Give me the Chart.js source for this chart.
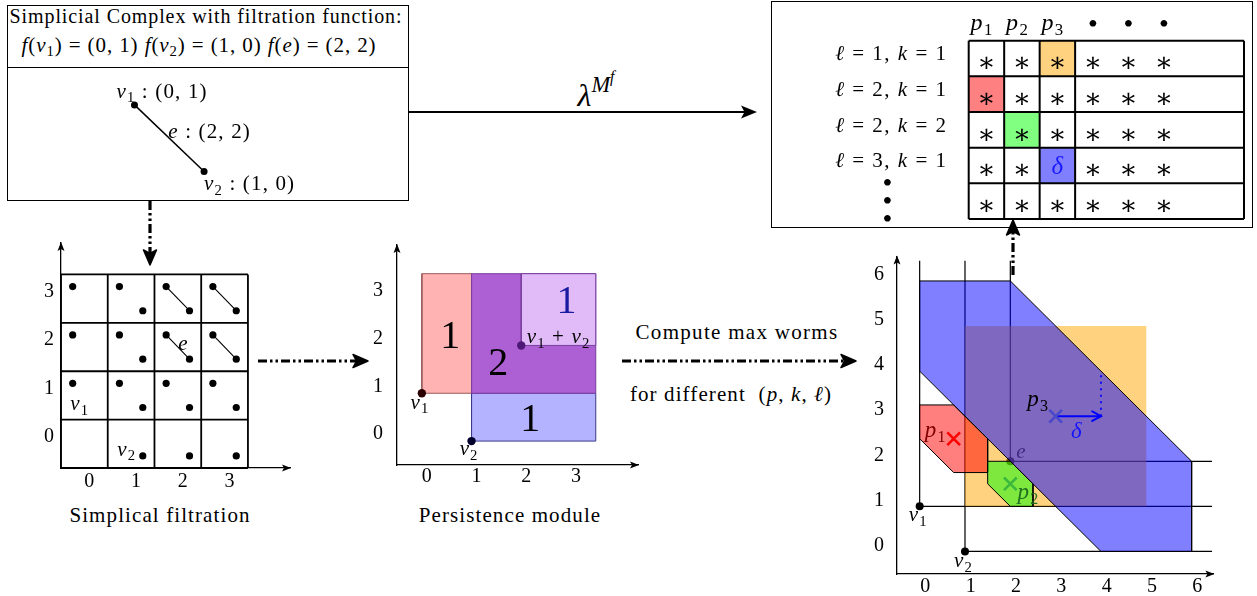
<!DOCTYPE html>
<html>
<head>
<meta charset="utf-8">
<title>Max worms from a persistence module</title>
<script src="https://cdn.jsdelivr.net/npm/chart.js@4.4.1/dist/chart.umd.min.js"></script>
<style>
  body { margin: 0; background: #fff; }
  #page { position: relative; width: 1257px; height: 596px; overflow: hidden; font-family: "Liberation Serif", "DejaVu Serif", serif; color: #000; }
  .pane { position: absolute; }
  .box { position: absolute; border: 1.3px solid #000; box-sizing: border-box; }
  .txt { position: absolute; white-space: nowrap; transform: translate(-50%, -50%); line-height: 1; font-size: 21px; letter-spacing: 1.1px; }
  sub { font-size: 70%; vertical-align: -0.28em; line-height: 0; }
  sup { font-size: 70%; vertical-align: 0.62em; line-height: 0; }
  svg { position: absolute; left: 0; top: 0; }
</style>
</head>
<body>
<div id="page">
  <div class="box" style="left:7px;top:5px;width:402px;height:196px"></div>
  <div class="box" style="left:7px;top:67px;width:402px;height:1px;border-width:1px 0 0 0"></div>
  <div class="box" style="left:771px;top:1px;width:482px;height:227px"></div>

  <div class="txt" style="left:206px;top:16px;font-size:20px;letter-spacing:0.9px">Simplicial Complex with filtration function:</div>
  <div class="txt" style="left:199px;top:45px;letter-spacing:0.9px"><i>f</i>(<i>v</i><sub>1</sub>) = (0, 1) <i>f</i>(<i>v</i><sub>2</sub>) = (1, 0) <i>f</i>(<i>e</i>) = (2, 2)</div>
  <div class="txt" style="left:596px;top:94px;font-size:32px;letter-spacing:0"><i>λ</i><sup><i>M</i><sup><i>f</i></sup></sup></div>
  <div class="txt" style="left:737px;top:332px;letter-spacing:1.3px">Compute max worms</div>
  <div class="txt" style="left:731px;top:394px">for different&nbsp; (<i>p</i>, <i>k</i>, <i>ℓ</i>)</div>
  <div class="txt" style="left:160px;top:515px">Simplical filtration</div>
  <div class="txt" style="left:510px;top:515px">Persistence module</div>

  <div class="pane" style="left:9px;top:69px;width:398px;height:130px"><canvas id="complexChart"></canvas></div>
  <div class="pane" style="left:21px;top:238px;width:277px;height:260px"><canvas id="filtrationChart"></canvas></div>
  <div class="pane" style="left:352px;top:240px;width:294px;height:255px"><canvas id="moduleChart"></canvas></div>
  <div class="pane" style="left:852px;top:245px;width:373px;height:351px"><canvas id="wormChart"></canvas></div>
  <div class="pane" style="left:773px;top:3px;width:478px;height:223px"><canvas id="tableChart"></canvas></div>

  <svg width="1257" height="596">
    <g stroke="#000" fill="none" stroke-width="3.2" stroke-dasharray="9 3 2.5 3 2.5 3">
      <line x1="150" y1="201" x2="150" y2="255"/>
      <line x1="258" y1="361" x2="358" y2="361"/>
      <line x1="622" y1="361" x2="846" y2="361"/>
      <line x1="1013" y1="275" x2="1013" y2="229"/>
    </g>
    <g fill="#000" stroke="#000" stroke-width="1.5" stroke-linejoin="round">
      <path d="M150,265 L143.5,250 L150,253.5 L156.5,250 Z"/>
      <path d="M368,361 L353,354.5 L356.5,361 L353,367.5 Z"/>
      <path d="M856,361 L841,354.5 L844.5,361 L841,367.5 Z"/>
      <path d="M1013,220 L1006.5,235 L1013,231.5 L1019.5,235 Z"/>
    </g>
    <line x1="409" y1="112" x2="746" y2="112" stroke="#000" stroke-width="1.8"/>
    <path d="M757,112 L741,105.5 L744.5,112 L741,118.5 Z" fill="#000"/>
  </svg>
</div>

<script>
const SERIF = '"Liberation Serif", "DejaVu Serif", serif';

// simplicial complex: two vertices and one edge with their bifiltration values
const vertexNames = ['v_1', 'v_2'];
const vertexValues = [[0, 1], [1, 0]];
const edgeName = 'e';
const edgeValue = [2, 2];

// tick labels of the three plots
const filtrationTicks = [0, 1, 2, 3];
const moduleTicks = [0, 1, 2, 3];
const wormTicks = [0, 1, 2, 3, 4, 5, 6];

// persistence module: rank regions as rectangles
const regionRanks = ['1', '1', '2', '1'];
const regionX0 = [0, 1, 1, 2];
const regionX1 = [1, 3.5, 3.5, 3.5];
const regionY0 = [1, 0, 1, 2];
const regionY1 = [3.5, 1, 3.5, 3.5];

// worms around the points p1, p2, p3
const wormNames = ['p_1', 'p_2', 'p_3'];
const wormCenters = [[0.75, 2.5], [2, 1.5], [3, 3]];
const wormP1 = [[0, 3.25], [0.75, 3.25], [1.5, 2.5], [1.5, 1.75], [0.75, 1.75], [0, 2.5]];
const wormP2 = [[1.5, 2], [2, 2], [2.5, 1.5], [2.5, 1], [2, 1], [1.5, 1.5]];
const wormP3 = [[0, 6], [2, 6], [6, 2], [6, 0], [4, 0], [0, 4]];
const supportBox = [[1, 1], [5, 1], [5, 5], [1, 5]];
const deltaValue = 1;
const deltaGuide = [[4, 3], [4, 4]];
const hookEnd = 6.45;

// table of max worm values
const tableColumns = ['$p_1$', '$p_2$', '$p_3$', '•', '•', '•'];
const tableRows = ['$ℓ$ = 1, $k$ = 1', '$ℓ$ = 2, $k$ = 1', '$ℓ$ = 2, $k$ = 2', '$ℓ$ = 3, $k$ = 1'];
const tableEntries = [
  ['∗', '∗', '∗', '∗', '∗', '∗'],
  ['∗', '∗', '∗', '∗', '∗', '∗'],
  ['∗', '∗', '∗', '∗', '∗', '∗'],
  ['∗', '∗', '$δ$', '∗', '∗', '∗'],
  ['∗', '∗', '∗', '∗', '∗', '∗']
];
const markedRows = [0, 1, 2, 3];
const markedCols = [2, 0, 1, 2];

// colours
const markColors = ['#ffd280', '#ff8080', '#80ff80', '#8080ff'];
const regionFills = ['#ffb3b3', '#b3b3ff', '#ad5fd4', '#e0bbf7'];
const regionEdges = ['#9a5a5a', '#3a3a8a', '#7a3fa0', '#7a3fa0'];

// tiny tex: $...$ is math (letters in italics), _x is a subscript
function parseTex(s) {
  const parts = [];
  let math = false;
  for (let i = 0; i < s.length; i++) {
    const c = s[i];
    if (c === '$') { math = !math; continue; }
    if (math && c === '_') { parts.push({ t: s[i + 1], math, sub: true }); i++; continue; }
    parts.push({ t: c, math, sub: false });
  }
  return parts;
}

function drawTex(ctx, x, y, tex, size, color, align, spacing) {
  const parts = parseTex(tex);
  const gap = spacing === undefined ? size * 0.055 : spacing;
  const fontOf = p => (p.math && /[A-Za-zδℓ]/.test(p.t) ? 'italic ' : '') + (p.sub ? size * 0.7 : size) + 'px ' + SERIF;
  let width = 0;
  parts.forEach(p => { ctx.font = fontOf(p); p.w = ctx.measureText(p.t).width + gap; width += p.w; });
  width -= gap;
  let cx = align === 'left' ? x : align === 'right' ? x - width : x - width / 2;
  ctx.save();
  ctx.fillStyle = color;
  ctx.textAlign = 'left';
  ctx.textBaseline = 'alphabetic';
  parts.forEach(p => {
    ctx.font = fontOf(p);
    ctx.fillText(p.t, cx, y + size * 0.33 + (p.sub ? size * 0.22 : 0));
    cx += p.w;
  });
  ctx.restore();
}

// labels anchored at data coordinates, with a pixel nudge
function textLayer(when, items) {
  const hook = when === 'under' ? 'beforeDatasetsDraw' : 'afterDraw';
  return {
    id: 'text_' + when,
    [hook](chart) {
      const { ctx, scales } = chart;
      items.forEach(it => {
        const px = scales.x.getPixelForValue(it.x) + (it.dx || 0);
        const py = scales.y.getPixelForValue(it.y) + (it.dy || 0);
        drawTex(ctx, px, py, it.tex, it.size || 21, it.color || '#000', it.align || 'center', it.spacing);
      });
    }
  };
}

// fills closed datasets (polygonColor) from the points chart.js placed, and draws arrow tips
const polygonFill = {
  id: 'polygonFill',
  beforeDatasetDraw(chart, args) {
    const ds = chart.data.datasets[args.index];
    if (!ds.polygonColor) return;
    const ctx = chart.ctx;
    ctx.save();
    ctx.beginPath();
    args.meta.data.forEach((p, i) => i ? ctx.lineTo(p.x, p.y) : ctx.moveTo(p.x, p.y));
    ctx.closePath();
    ctx.fillStyle = ds.polygonColor;
    ctx.fill();
    ctx.restore();
  },
  afterDatasetDraw(chart, args) {
    const ds = chart.data.datasets[args.index];
    if (!ds.arrowEnd) return;
    const pts = args.meta.data;
    const a = pts[pts.length - 2], b = pts[pts.length - 1];
    const ang = Math.atan2(b.y - a.y, b.x - a.x);
    const ctx = chart.ctx;
    ctx.save();
    ctx.strokeStyle = ds.borderColor;
    ctx.lineWidth = ds.borderWidth;
    ctx.lineCap = 'round';
    ctx.beginPath();
    ctx.moveTo(b.x - 10 * Math.cos(ang - 0.5), b.y - 10 * Math.sin(ang - 0.5));
    ctx.lineTo(b.x, b.y);
    ctx.lineTo(b.x - 10 * Math.cos(ang + 0.5), b.y - 10 * Math.sin(ang + 0.5));
    ctx.stroke();
    ctx.restore();
  }
};
Chart.register(polygonFill);

const axisArrows = {
  id: 'axisArrows',
  afterDraw(chart) {
    const { ctx, chartArea: a } = chart;
    ctx.save();
    ctx.fillStyle = '#000';
    ctx.beginPath();
    ctx.moveTo(a.right + 1, a.bottom);
    ctx.lineTo(a.right - 8, a.bottom - 3.5);
    ctx.lineTo(a.right - 6, a.bottom);
    ctx.lineTo(a.right - 8, a.bottom + 3.5);
    ctx.closePath();
    ctx.fill();
    ctx.beginPath();
    ctx.moveTo(a.left, a.top - 1);
    ctx.lineTo(a.left - 3.5, a.top + 8);
    ctx.lineTo(a.left, a.top + 6);
    ctx.lineTo(a.left + 3.5, a.top + 8);
    ctx.closePath();
    ctx.fill();
    ctx.restore();
  }
};

const pt = p => ({ x: p[0], y: p[1] });
const GAP = { x: null, y: null };

function lineSet(points, color, width, order, extra) {
  return Object.assign({
    data: points, showLine: true, borderColor: color, borderWidth: width,
    pointRadius: 0, fill: false, spanGaps: false, clip: false, order
  }, extra || {});
}

function polySet(points, fillColor, edgeColor, order) {
  return lineSet(points.concat([points[0]]).map(pt), edgeColor || 'rgba(0,0,0,0)', 1, order, { polygonColor: fillColor });
}

function dotSet(points, color, radius, order, style, width) {
  return {
    data: points, showLine: false, pointRadius: radius, pointStyle: style || 'circle',
    pointBackgroundColor: color, pointBorderColor: color, pointBorderWidth: width || 0, clip: false, order
  };
}

function baseOptions(scales, padding) {
  return {
    responsive: true, maintainAspectRatio: false, animation: false, events: [],
    layout: { padding },
    plugins: { legend: { display: false }, tooltip: { enabled: false } },
    scales
  };
}

function hiddenScale(min, max, reverse) {
  return { type: 'linear', display: false, min, max, reverse: !!reverse };
}

function axisScale(min, max, ticks, size, pad, offset, isY) {
  return {
    type: 'linear', min, max,
    grid: { display: false, drawTicks: false },
    border: { display: true, color: '#000', width: 1.3 },
    ticks: { color: '#000', font: { family: SERIF, size: 20 }, padding: pad, labelOffset: offset },
    afterBuildTicks: s => { s.ticks = ticks.map(v => ({ value: v })); },
    afterFit: s => {
      if (isY) s.width = size; else s.height = size;
      s.paddingTop = 0; s.paddingBottom = 0; s.paddingLeft = 0; s.paddingRight = 0;
    }
  };
}

// ---- simplicial complex (top left box)
const edgeMid = [(vertexValues[0][0] + vertexValues[1][0]) / 2, (vertexValues[0][1] + vertexValues[1][1]) / 2];
new Chart(document.getElementById('complexChart'), {
  type: 'scatter',
  data: { datasets: [
    lineSet(vertexValues.map(pt), '#000', 1.5, 1, { pointRadius: 3.5, pointBackgroundColor: '#000', pointBorderWidth: 0 })
  ] },
  options: baseOptions({ x: hiddenScale(-1.746, 3.859), y: hiddenScale(-0.352, 1.479) }, 0),
  plugins: [textLayer('over', [
    { x: vertexValues[0][0], y: vertexValues[0][1], dx: -18, dy: -14, align: 'left', tex: '$' + vertexNames[0] + '$ : (' + vertexValues[0].join(', ') + ')' },
    { x: edgeMid[0], y: edgeMid[1], dx: -1, dy: -7, align: 'left', tex: '$' + edgeName + '$ : (' + edgeValue.join(', ') + ')' },
    { x: vertexValues[1][0], y: vertexValues[1][1], dx: 0, dy: 12, align: 'left', tex: '$' + vertexNames[1] + '$ : (' + vertexValues[1].join(', ') + ')' }
  ])]
});

// ---- simplicial filtration grid
const gridLines = [];
const lo = filtrationTicks[0] - 0.5, hi = filtrationTicks[filtrationTicks.length - 1] + 0.5;
filtrationTicks.concat([hi + 0.5]).forEach(t => {
  gridLines.push({ x: t - 0.5, y: lo }, { x: t - 0.5, y: hi }, GAP);
  gridLines.push({ x: lo, y: t - 0.5 }, { x: hi, y: t - 0.5 }, GAP);
});
const v1Dots = [], v2Dots = [], edgeLines = [];
filtrationTicks.forEach(i => filtrationTicks.forEach(j => {
  const a = { x: i - 0.25, y: j + 0.25 }, b = { x: i + 0.25, y: j - 0.25 };
  if (i >= vertexValues[0][0] && j >= vertexValues[0][1]) v1Dots.push(a);
  if (i >= vertexValues[1][0] && j >= vertexValues[1][1]) v2Dots.push(b);
  if (i >= edgeValue[0] && j >= edgeValue[1]) edgeLines.push(a, b, GAP);
}));
new Chart(document.getElementById('filtrationChart'), {
  type: 'scatter',
  data: { datasets: [
    lineSet(gridLines, '#000', 1.8, 3),
    lineSet(edgeLines, '#000', 1.1, 2),
    dotSet(v1Dots, '#000', 3.6, 1),
    dotSet(v2Dots, '#000', 3.6, 1)
  ] },
  options: baseOptions({
    x: axisScale(-0.5, 4.4, filtrationTicks, 30, 2, 5, false),
    y: axisScale(-0.5, 4.15, filtrationTicks, 40, 7, -7, true)
  }, { top: 5, right: 8, left: 0, bottom: 0 }),
  plugins: [axisArrows, textLayer('over', [
    { x: vertexValues[0][0] - 0.25, y: vertexValues[0][1] + 0.25, dx: 6.6, dy: 20, tex: '$' + vertexNames[0] + '$' },
    { x: vertexValues[1][0] + 0.25, y: vertexValues[1][1] - 0.25, dx: -16.7, dy: -7, tex: '$' + vertexNames[1] + '$' },
    { x: edgeValue[0], y: edgeValue[1], dx: 5, dy: -3.5, tex: '$' + edgeName + '$' }
  ])]
});

// ---- persistence module
const regionSets = regionRanks.map((r, i) => polySet(
  [[regionX0[i], regionY0[i]], [regionX1[i], regionY0[i]], [regionX1[i], regionY1[i]], [regionX0[i], regionY1[i]]],
  regionFills[i], regionEdges[i], 10 - i));
new Chart(document.getElementById('moduleChart'), {
  type: 'scatter',
  data: { datasets: regionSets.concat([
    dotSet([pt(vertexValues[0])], '#2a0000', 4.2, 1),
    dotSet([pt(vertexValues[1])], '#00002a', 4.2, 1),
    dotSet([pt(edgeValue)], '#4e1878', 4.2, 1)
  ]) },
  options: baseOptions({
    x: axisScale(-0.5, 4.35, moduleTicks, 30, 0, 5, false),
    y: axisScale(-0.5, 4.1, moduleTicks, 45, 14, -7, true)
  }, { top: 5, right: 8, left: 0, bottom: 0 }),
  plugins: [axisArrows, textLayer('over', [
    { x: 0.57, y: 2.22, tex: regionRanks[0], size: 40, spacing: 0 },
    { x: 2.18, y: 0.48, tex: regionRanks[1], size: 40, spacing: 0 },
    { x: 1.54, y: 1.66, tex: regionRanks[2], size: 40, spacing: 0 },
    { x: 2.91, y: 2.95, tex: regionRanks[3], size: 40, spacing: 0, color: '#1a1aa0' },
    { x: vertexValues[0][0], y: vertexValues[0][1], dx: -2.5, dy: 8.4, tex: '$' + vertexNames[0] + '$' },
    { x: vertexValues[1][0], y: vertexValues[1][1], dx: -3, dy: 7, tex: '$' + vertexNames[1] + '$' },
    { x: edgeValue[0], y: edgeValue[1], dx: 5.5, dy: -9, align: 'left', tex: '$' + vertexNames.join(' + ') + '$' }
  ])]
});

// ---- worms
const generators = vertexValues.concat([edgeValue]);
const hookLines = [];
generators.forEach(g => hookLines.push({ x: g[0], y: hookEnd }, pt(g), { x: hookEnd, y: g[1] }, GAP));
const p3 = wormCenters[2];
new Chart(document.getElementById('wormChart'), {
  type: 'scatter',
  data: { datasets: [
    lineSet(hookLines, '#000', 1.2, 12),
    dotSet(generators.map(pt), '#000', 4, 11),
    polySet(supportBox, 'rgba(255,165,0,0.5)', null, 10),
    polySet(wormP1, 'rgba(255,0,0,0.5)', '#000', 9),
    polySet(wormP2, 'rgba(0,255,0,0.5)', '#000', 8),
    polySet(wormP3, 'rgba(0,0,255,0.5)', '#000', 7),
    lineSet(deltaGuide.map(pt), '#0000ff', 1.8, 3, { borderDash: [2, 4.5] }),
    lineSet([pt(p3), { x: p3[0] + deltaValue, y: p3[1] }], '#0000ff', 2, 2, { arrowEnd: true }),
    dotSet([pt(wormCenters[0])], '#ff0000', 9, 1, 'crossRot', 2.6),
    dotSet([pt(wormCenters[1])], '#3cb83c', 9, 1, 'crossRot', 2.6),
    dotSet([pt(wormCenters[2])], '#4848c8', 9, 1, 'crossRot', 2.6)
  ] },
  options: baseOptions({
    x: axisScale(-0.5, 6.48, wormTicks, 22, 1, 5.7, false),
    y: axisScale(-0.5, 6.54, wormTicks, 45, 13, -6, true)
  }, { top: 5, right: 8, left: 0, bottom: 0 }),
  plugins: [axisArrows,
    textLayer('under', [
      { x: wormCenters[0][0], y: wormCenters[0][1], dx: -18.4, dy: -9.3, tex: '$' + wormNames[0] + '$', size: 23 },
      { x: edgeValue[0], y: edgeValue[1], dx: 10.6, dy: -10.7, tex: '$' + edgeName + '$' }
    ]),
    textLayer('over', [
      { x: wormCenters[1][0], y: wormCenters[1][1], dx: 17.5, dy: 8, tex: '$' + wormNames[1] + '$', size: 23, color: '#1f6f1f' },
      { x: p3[0], y: p3[1], dx: -18, dy: -18, tex: '$' + wormNames[2] + '$', size: 23 },
      { x: p3[0] + deltaValue / 2, y: p3[1], dx: -2, dy: 14.7, tex: '$δ$', size: 23, color: '#1515ff' },
      { x: vertexValues[0][0], y: vertexValues[0][1], dx: -2, dy: 8, tex: '$' + vertexNames[0] + '$' },
      { x: vertexValues[1][0], y: vertexValues[1][1], dx: -2, dy: 9, tex: '$' + vertexNames[1] + '$' }
    ])]
});

// ---- table of values
const tableRight = 7.76;
const tableLines = [];
[0, 1, 2, 3, tableRight].forEach(c => tableLines.push({ x: c, y: 0 }, { x: c, y: tableEntries.length }, GAP));
tableEntries.forEach((row, r) => tableLines.push({ x: 0, y: r }, { x: tableRight, y: r }, GAP));
tableLines.push({ x: 0, y: tableEntries.length }, { x: tableRight, y: tableEntries.length });
const cellSets = markedRows.map((r, i) => polySet(
  [[markedCols[i], r], [markedCols[i] + 1, r], [markedCols[i] + 1, r + 1], [markedCols[i], r + 1]],
  markColors[i], null, 5));
const tableTexts = [];
tableEntries.forEach((row, r) => row.forEach((v, c) => tableTexts.push(
  v === '∗' ? { x: c + 0.5, y: r + 0.5, dy: 4, tex: v, size: 27, spacing: 0 } : { x: c + 0.5, y: r + 0.5, tex: v, size: 25, color: '#1a1aff' })));
tableColumns.forEach((h, c) => tableTexts.push(
  h === '•' ? { x: c + 0.5, y: 0, dy: -17.4, tex: h, size: 28, spacing: 0 } : { x: c + 0.5, y: 0, dx: -5, dy: -19, tex: h, size: 24 }));
tableRows.forEach((lab, r) => tableTexts.push({ x: 0, y: r + 0.5, dx: -22.7, dy: -5, align: 'right', tex: lab, size: 21, spacing: 1.5 }));
[-0.6, 17.7, 35.7].forEach(d => tableTexts.push({ x: 0, y: tableRows.length, dx: -81.4, dy: d, tex: '•', size: 28, spacing: 0 }));
new Chart(document.getElementById('tableChart'), {
  type: 'scatter',
  data: { datasets: cellSets.concat([lineSet(tableLines, '#000', 2, 1)]) },
  options: baseOptions({ x: hiddenScale(0, tableRight), y: hiddenScale(0, tableEntries.length, true) },
    { left: 195.7, top: 37.7, right: 7, bottom: 7 }),
  plugins: [textLayer('over', tableTexts)]
});
</script>
</body>
</html>
